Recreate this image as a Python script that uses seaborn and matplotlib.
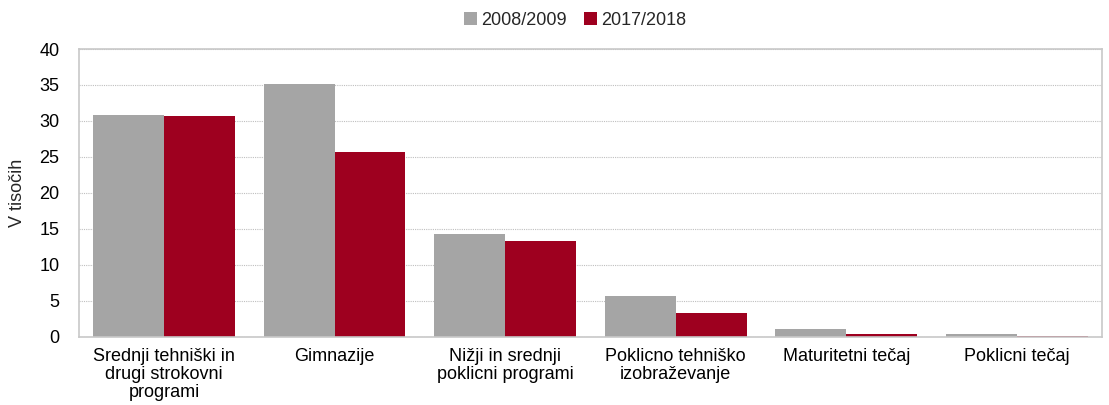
import pandas as pd
import numpy as np
import matplotlib
matplotlib.use("Agg")
from matplotlib import pyplot as plt
import seaborn as sns

# podatki
kategorije = ["Srednji tehniški in\ndrugi strokovni\nprogrami", "Gimnazije",
              "Nižji in srednji\npoklicni programi", "Poklicno tehniško\nizobraževanje",
              "Maturitetni tečaj", "Poklicni tečaj"]
leta = ["2008/2009", "2017/2018"]
vrednosti_2008 = [30.8, 35.1, 14.3, 5.7, 1.1, 0.35]
vrednosti_2017 = [30.7, 25.7, 13.3, 3.3, 0.35, 0.2]
barve = ["#A5A5A5", "#9E001F"]

df = pd.DataFrame({
    "kategorija": kategorije * 2,
    "leto": [leta[0]] * len(kategorije) + [leta[1]] * len(kategorije),
    "vrednost": vrednosti_2008 + vrednosti_2017,
})

sns.set_style("white")
plt.rcParams['font.family'] = ['Liberation Sans', 'DejaVu Sans']

fs = 13

fig = plt.figure(figsize=(11.09, 4.05), dpi=100)
ax = fig.add_axes([0.0712, 0.168, 0.9225, 0.711])

sns.barplot(data=df, x="kategorija", y="vrednost", hue="leto", palette=barve,
            width=0.83, gap=0, saturation=1, linewidth=0, ax=ax, legend=True)

ax.set_ylim(0, 40)
ax.set_yticks(np.arange(0, 41, 5))
ax.set_xlim(-0.5, len(kategorije) - 0.5)
ax.yaxis.grid(True, linestyle=(0, (1, 1)), color="#BFBFBF", linewidth=0.8)
ax.set_axisbelow(True)
for s in ax.spines.values():
    s.set_color("#C8C8C8")
    s.set_linewidth(1.2)
ax.tick_params(axis="both", length=0, labelsize=fs, colors="black")
ax.tick_params(axis="y", pad=14)
ax.tick_params(axis="x", pad=8)
for t in ax.get_xticklabels():
    t.set_linespacing(1.08)
ax.set_xlabel("")
ax.set_ylabel("V tisočih", fontsize=fs, labelpad=10)

h, l = ax.get_legend_handles_labels()
ax.legend(h, l, loc="center", bbox_to_anchor=(0.485, 1.1), ncol=2, frameon=False,
          fontsize=fs, handlelength=0.7, handleheight=0.7, handletextpad=0.2, columnspacing=1.0)

plt.savefig("out.png", dpi=100)
